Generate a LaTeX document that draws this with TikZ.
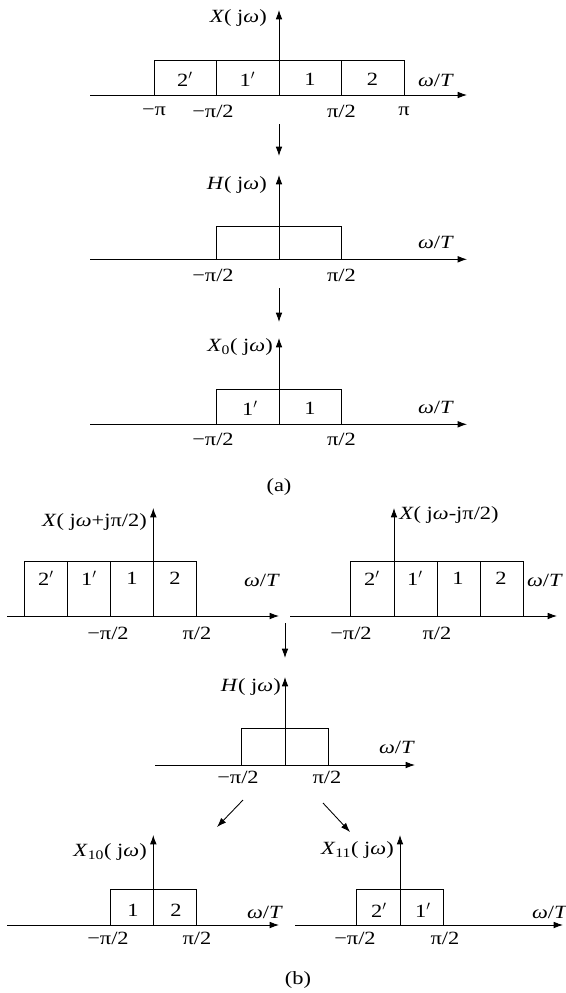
\documentclass[tikz,border=0pt]{standalone}
\usepackage{fontspec}
\setmainfont[FakeStretch=1.2]{Liberation Serif}
\usetikzlibrary{arrows.meta}
\newcommand{\om}{\textit{ω}}
\begin{document}
\begin{tikzpicture}[x=0.75pt,y=-0.75pt,
  ax/.style={line width=0.65pt,-{Latex[length=7pt,width=5pt]}},
  bx/.style={line width=0.65pt},
  lbl/.style={inner sep=0pt,font=\fontsize{14}{16}\selectfont},
  num/.style={inner sep=0pt,font=\fontsize{14}{16}\selectfont}]
\useasboundingbox (0,0) rectangle (565,993);

% ---------- (a) plot 1 : X(jw)
\coordinate (a1l) at (90,95); \coordinate (a1r) at (467,95);
\coordinate (a1o) at (279,95); \coordinate (a1t) at (279,10);
\draw[bx] (154,95) rectangle (404,60.7);
\draw[bx] (216.5,95) -- (216.5,60.7) (341.5,95) -- (341.5,60.7);
\draw[ax] (a1l) -- (a1r);
\draw[ax] (a1o) -- (a1t);
\node[lbl,anchor=east] (a1lab) at (267,18) {\textit{X}(\ j\om)};
\node[lbl] (a1w) at (436,80) {\om/\textit{T}};
\node[num] (a1n1) at (185,79) {2$'$};
\node[num] (a1n2) at (247.5,79) {1$'$};
\node[num] (a1n3) at (310,79) {1};
\node[num] (a1n4) at (372.5,79) {2};
\node[lbl] (a1t1) at (154,111) {−π};
\node[lbl] (a1t2) at (213,111) {−π/2};
\node[lbl] (a1t3) at (341.5,111) {π/2};
\node[lbl] (a1t4) at (404,111) {π};

\coordinate (d1a) at (279,124); \coordinate (d1b) at (279,156);
\draw[ax] (d1a) -- (d1b);

% ---------- (a) plot 2 : H(jw)
\coordinate (a2l) at (90,259.3); \coordinate (a2r) at (467,259.3);
\coordinate (a2o) at (279,259.3); \coordinate (a2t) at (279,175);
\draw[bx] (216.5,259.3) rectangle (341.5,226.7);
\draw[ax] (a2l) -- (a2r);
\draw[ax] (a2o) -- (a2t);
\node[lbl,anchor=east] (a2lab) at (267,185) {\textit{H}(\ j\om)};
\node[lbl] (a2w) at (436,242) {\om/\textit{T}};
\node[lbl] (a2t2) at (213,275) {−π/2};
\node[lbl] (a2t3) at (341.5,275) {π/2};

\coordinate (d2a) at (279,288); \coordinate (d2b) at (279,322);
\draw[ax] (d2a) -- (d2b);

% ---------- (a) plot 3 : X0(jw)
\coordinate (a3l) at (90,424.3); \coordinate (a3r) at (467,424.3);
\coordinate (a3o) at (279,424.3); \coordinate (a3t) at (279,338);
\draw[bx] (216.5,424.3) rectangle (341.5,389.3);
\draw[ax] (a3l) -- (a3r);
\draw[ax] (a3o) -- (a3t);
\node[lbl,anchor=east] (a3lab) at (273,347) {\textit{X}\textsubscript{0}(\ j\om)};
\node[lbl] (a3w) at (436,407) {\om/\textit{T}};
\node[num] (a3n1) at (250,408) {1$'$};
\node[num] (a3n2) at (310,408) {1};
\node[lbl] (a3t2) at (213,439) {−π/2};
\node[lbl] (a3t3) at (341.5,439) {π/2};
\node[lbl] (capa) at (279,487) {(a)};

% ---------- (b) plot 1 : X(jw+jpi/2)
\coordinate (b1l) at (7,616); \coordinate (b1r) at (279,616);
\coordinate (b1o) at (153.3,616); \coordinate (b1t) at (153.3,508);
\draw[bx] (24.3,616) rectangle (196.7,561);
\draw[bx] (67.6,616) -- (67.6,561) (110.7,616) -- (110.7,561);
\draw[ax] (b1l) -- (b1r);
\draw[ax] (b1o) -- (b1t);
\node[lbl,anchor=east] (b1lab) at (147,522) {\textit{X}(\ j\om+jπ/2)};
\node[lbl] (b1w) at (262,580) {\om/\textit{T}};
\node[num] (b1n1) at (46,578) {2$'$};
\node[num] (b1n2) at (89,578) {1$'$};
\node[num] (b1n3) at (132,578) {1};
\node[num] (b1n4) at (175,578) {2};
\node[lbl] (b1t2) at (108,633) {−π/2};
\node[lbl] (b1t3) at (197,633) {π/2};

% ---------- (b) plot 2 : X(jw-jpi/2)
\coordinate (b2l) at (290,616); \coordinate (b2r) at (557,616);
\coordinate (b2o) at (394,616); \coordinate (b2t) at (394,508);
\draw[bx] (350.7,616) rectangle (523,561);
\draw[bx] (437,616) -- (437,561) (480,616) -- (480,561);
\draw[ax] (b2l) -- (b2r);
\draw[ax] (b2o) -- (b2t);
\node[lbl,anchor=west] (b2lab) at (399,515) {\textit{X}(\ j\om-jπ/2)};
\node[lbl] (b2w) at (545,580) {\om/\textit{T}};
\node[num] (b2n1) at (372,578) {2$'$};
\node[num] (b2n2) at (415,578) {1$'$};
\node[num] (b2n3) at (458,578) {1};
\node[num] (b2n4) at (501,578) {2};
\node[lbl] (b2t2) at (351,633) {−π/2};
\node[lbl] (b2t3) at (437,633) {π/2};

\coordinate (d3a) at (285,623); \coordinate (d3b) at (285,658);
\draw[ax] (d3a) -- (d3b);

% ---------- (b) plot 3 : H(jw)
\coordinate (b3l) at (155,765); \coordinate (b3r) at (415,765);
\coordinate (b3o) at (285,765); \coordinate (b3t) at (285,677);
\draw[bx] (241.7,765) rectangle (328.3,728.3);
\draw[ax] (b3l) -- (b3r);
\draw[ax] (b3o) -- (b3t);
\node[lbl,anchor=east] (b3lab) at (281,687) {\textit{H}(\ j\om)};
\node[lbl] (b3w) at (397,747) {\om/\textit{T}};
\node[lbl] (b3t2) at (238,777) {−π/2};
\node[lbl] (b3t3) at (327,777) {π/2};

\coordinate (d4a) at (243,800); \coordinate (d4b) at (217,827);
\draw[ax] (d4a) -- (d4b);
\coordinate (d5a) at (323,803); \coordinate (d5b) at (350,832);
\draw[ax] (d5a) -- (d5b);

% ---------- (b) plot 4 : X10(jw)
\coordinate (b4l) at (7,925); \coordinate (b4r) at (279,925);
\coordinate (b4o) at (153.3,925); \coordinate (b4t) at (153.3,835);
\draw[bx] (110.7,925) rectangle (196.7,889);
\draw[ax] (b4l) -- (b4r);
\draw[ax] (b4o) -- (b4t);
\node[lbl,anchor=east] (b4lab) at (147,852) {\textit{X}\textsubscript{10}(\ j\om)};
\node[lbl] (b4w) at (265,912) {\om/\textit{T}};
\node[num] (b4n1) at (133,910) {1};
\node[num] (b4n2) at (176,910) {2};
\node[lbl] (b4t2) at (108,938) {−π/2};
\node[lbl] (b4t3) at (197,938) {π/2};

% ---------- (b) plot 5 : X11(jw)
\coordinate (b5l) at (295,925); \coordinate (b5r) at (563,925);
\coordinate (b5o) at (400,925); \coordinate (b5t) at (400,835);
\draw[bx] (356.7,925) rectangle (443,889);
\draw[ax] (b5l) -- (b5r);
\draw[ax] (b5o) -- (b5t);
\node[lbl,anchor=east] (b5lab) at (394,850) {\textit{X}\textsubscript{11}(\ j\om)};
\node[lbl] (b5w) at (550,912) {\om/\textit{T}};
\node[num] (b5n1) at (379,910) {2$'$};
\node[num] (b5n2) at (423,910) {1$'$};
\node[lbl] (b5t2) at (355,938) {−π/2};
\node[lbl] (b5t3) at (445,938) {π/2};
\node[lbl] (capb) at (298,980) {(b)};
\end{tikzpicture}
\end{document}
